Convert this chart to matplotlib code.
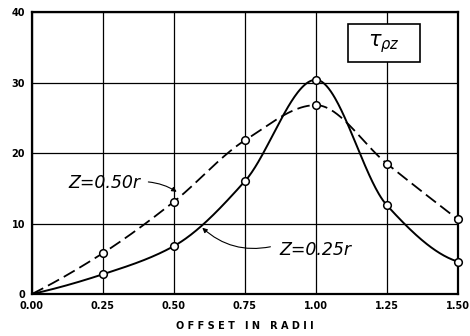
import numpy as np
import matplotlib
matplotlib.use('Agg')
import matplotlib.pyplot as plt
from matplotlib.patches import Rectangle

# valores
offset = [0.00, 0.25, 0.50, 0.75, 1.00, 1.25, 1.50]
z025 = [0.0, 2.8, 6.8, 16.0, 30.4, 12.6, 4.6]
z050 = [0.0, 5.8, 13.1, 21.8, 26.8, 18.5, 10.6]
xticks = [0.00, 0.25, 0.50, 0.75, 1.00, 1.25, 1.50]
xlabels = ['0.00', '0.25', '0.50', '0.75', '1.00', '1.25', '1.50']
yticks = [0, 10, 20, 30, 40]


def pchip(x, y, xs):
    # curva suave monotona entre puntos (Fritsch-Carlson)
    x = np.asarray(x, float)
    y = np.asarray(y, float)
    h = np.diff(x)
    d = np.diff(y) / h
    n = len(x)
    m = np.zeros(n)
    for k in range(1, n - 1):
        if d[k - 1] * d[k] > 0:
            w1 = 2 * h[k] + h[k - 1]
            w2 = h[k] + 2 * h[k - 1]
            m[k] = (w1 + w2) / (w1 / d[k - 1] + w2 / d[k])
    m[0] = ((2 * h[0] + h[1]) * d[0] - h[0] * d[1]) / (h[0] + h[1])
    if m[0] * d[0] <= 0:
        m[0] = 0
    m[-1] = ((2 * h[-1] + h[-2]) * d[-1] - h[-1] * d[-2]) / (h[-1] + h[-2])
    if m[-1] * d[-1] <= 0:
        m[-1] = 0
    idx = np.clip(np.searchsorted(x, xs) - 1, 0, n - 2)
    t = (xs - x[idx]) / h[idx]
    h00 = 2 * t**3 - 3 * t**2 + 1
    h10 = t**3 - 2 * t**2 + t
    h01 = -2 * t**3 + 3 * t**2
    h11 = t**3 - t**2
    return (h00 * y[idx] + h10 * h[idx] * m[idx]
            + h01 * y[idx + 1] + h11 * h[idx] * m[idx + 1])


xs = np.linspace(0, 1.5, 400)

fig = plt.figure(figsize=(4.7, 3.36), dpi=100)
ax = fig.add_axes([0.068, 0.125, 0.906, 0.839])

ax.plot(xs, pchip(offset, z025, xs), color='black', lw=1.4)
ax.plot(xs, pchip(offset, z050, xs), color='black', lw=1.3, dashes=(7, 3))
ax.plot(offset[1:], z025[1:], 'o', ms=5.5, mfc='white', mec='black',
        mew=1.1, clip_on=False, zorder=5)
ax.plot(offset[1:], z050[1:], 'o', ms=5.5, mfc='white', mec='black',
        mew=1.1, clip_on=False, zorder=5)

ax.set_xlim(0, 1.5)
ax.set_ylim(0, 40)
ax.set_xticks(xticks)
ax.set_xticklabels(xlabels)
ax.set_yticks(yticks)
ax.grid(True, color='black', lw=0.9)
ax.set_axisbelow(True)
ax.tick_params(length=0, labelsize=7, pad=5)
for lab in ax.get_xticklabels() + ax.get_yticklabels():
    lab.set_fontweight('bold')
for s in ax.spines.values():
    s.set_linewidth(1.6)

ax.set_xlabel('O F F S E T   I N   R A D I I', fontsize=7,
              fontweight='bold', labelpad=7)

# rotulos de las curvas
ax.text(0.255, 15.8, 'Z=0.50r', fontsize=12.5, style='italic',
        ha='center', va='center')
ax.annotate('', xy=(0.51, 14.5), xytext=(0.41, 15.9),
            arrowprops=dict(arrowstyle='-|>', color='black', lw=0.8,
                            mutation_scale=7, shrinkA=0, shrinkB=0,
                            connectionstyle='arc3,rad=-0.12'))
ax.text(1.0, 6.2, 'Z=0.25r', fontsize=12.5, style='italic',
        ha='center', va='center')
ax.annotate('', xy=(0.60, 9.4), xytext=(0.84, 6.7),
            arrowprops=dict(arrowstyle='-|>', color='black', lw=0.8,
                            mutation_scale=7, shrinkA=0, shrinkB=0,
                            connectionstyle='arc3,rad=-0.25'))

ax.add_patch(Rectangle((1.113, 32.9), 0.253, 5.4, fc='white', ec='black',
                       lw=1.2, zorder=4))
ax.text(1.24, 35.6, r'$\tau_{\rho z}$', fontsize=15, ha='center',
        va='center', zorder=5)

fig.savefig('out.png', dpi=100)
